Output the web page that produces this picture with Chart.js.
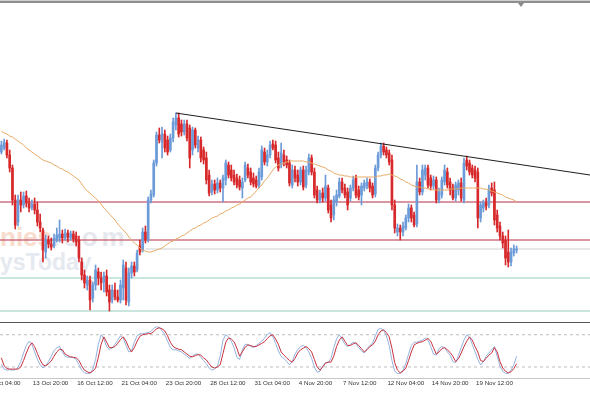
<!DOCTYPE html>
<html><head><meta charset="utf-8">
<script src="https://cdn.jsdelivr.net/npm/chart.js@4/dist/chart.umd.min.js"></script>
<style>
html,body{margin:0;padding:0;background:#fff;}
#wrap{position:relative;width:590px;height:393px;overflow:hidden;background:#fff;}
.abs{position:absolute;}
.wm{position:absolute;font-family:'Liberation Sans',Arial,sans-serif;font-weight:bold;white-space:nowrap;}
</style></head><body>
<div id="wrap">
  <div class="abs" style="left:0;top:0;width:590px;height:1px;background:#d0d0d0"></div>
  <div class="abs" style="left:0;top:1px;width:590px;height:2px;background:#8e8e8e"></div>
  <div class="abs" style="left:518px;top:3px;width:0;height:0;border-left:3px solid transparent;border-right:3px solid transparent;border-top:4px solid #8a8a8a"></div>
  <div class="wm" style="left:0;top:222px;font-size:26px;color:#f8dccd">nies<span style="color:#e6e8ee;letter-spacing:4px">.com</span></div>
  <div class="wm" style="left:0;top:249px;font-size:23px;color:#e5e9f0">ysToday</div>
  <canvas id="main" width="590" height="315" style="position:absolute;left:0;top:3px"></canvas>
  <div class="abs" style="left:0;top:322px;width:590px;height:1px;background:#555"></div>
  <div class="abs" style="left:0;top:378px;width:590px;height:1px;background:#c8c8c8"></div>
  <canvas id="osc" width="590" height="69" style="position:absolute;left:0;top:324px"></canvas>
</div>
<script>
// ---- data (price units, H4 bars) ----
const open = [248,252,257,245,232,200,178,200,195,204,
197,192,196,190,178,170,148,160,156,154,
160,162,166,162,167,162,166,164,160,138,
125,115,120,102,115,128,122,118,124,110,
100,110,103,100,112,132,98,127,134,130,
154,150,168,160,200,205,237,265,258,266,
260,250,262,275,282,276,268,276,272,250,
270,252,260,250,242,225,208,216,210,217,
212,220,235,230,225,222,220,212,220,232,
228,222,220,215,223,248,238,245,256,255,
242,235,245,240,237,215,230,225,218,230,
215,228,242,228,210,200,207,202,212,195,
185,198,204,218,212,208,202,212,222,210,
205,212,214,218,214,206,232,245,254,250,
247,240,195,168,172,168,172,182,192,185,
176,218,208,225,232,222,214,220,200,205,
218,228,218,212,202,210,217,200,240,237,
232,230,228,182,192,197,195,212,210,185,
174,164,160,148,138,147,150];
const high = [259,261,260,250,235,205,205,208,208,209,
202,200,202,198,186,172,165,164,162,166,
172,180,170,171,170,169,169,168,164,142,
130,124,124,118,135,132,128,128,130,115,
115,117,110,120,140,138,132,138,138,150,
160,172,174,203,210,240,268,272,273,270,
264,266,282,287,287,280,280,280,275,273,
272,264,263,253,248,230,220,220,222,220,
225,240,238,235,230,226,224,222,238,236,
232,227,224,232,254,252,250,259,260,259,
248,257,250,244,240,235,234,230,233,234,
234,246,245,232,214,210,212,225,215,200,
204,210,222,222,216,212,215,224,225,214,
217,220,222,221,217,235,248,257,257,253,
250,245,200,176,175,178,185,196,195,188,
235,222,235,235,235,225,224,223,212,223,
235,232,222,216,218,220,222,242,244,240,
235,234,232,198,200,202,215,217,218,190,
178,168,164,170,152,155,154];
const low = [246,250,242,228,195,171,174,188,192,193,
188,190,186,174,168,138,142,152,150,152,
158,158,157,160,158,160,158,154,138,120,
112,110,90,98,110,115,110,108,104,89,
97,100,98,97,100,95,94,122,124,128,
145,148,157,158,197,203,234,257,242,248,
245,248,258,270,263,264,265,259,232,245,
252,248,238,236,216,204,205,206,207,208,
198,215,222,219,215,212,210,202,218,222,
215,213,212,212,220,235,234,242,250,237,
229,232,234,232,214,212,218,214,215,210,
212,225,225,202,197,197,198,199,187,178,
180,194,202,207,202,190,199,209,202,200,
195,209,211,208,202,203,229,242,245,242,
235,190,167,164,160,164,170,178,178,173,
173,205,205,220,212,210,211,197,197,202,
215,212,205,200,199,205,199,197,230,225,
222,218,172,178,188,190,192,204,175,168,
160,152,135,133,134,144,147];
const close = [255,258,245,232,200,175,200,195,204,197,
192,196,190,178,172,150,160,156,153,162,
165,166,162,167,163,166,161,158,142,125,
117,120,100,115,130,122,117,124,108,98,
110,103,100,115,135,100,127,134,128,147,
148,168,160,200,206,237,265,260,266,252,
248,262,278,282,266,268,276,262,242,270,
255,260,242,240,220,207,216,210,217,212,
222,237,225,222,218,215,213,218,235,225,
218,216,214,228,250,238,245,255,252,240,
232,247,238,235,217,230,222,218,230,213,
230,242,228,205,200,207,202,214,190,182,
200,205,218,210,205,195,212,220,205,203,
214,217,218,212,205,232,245,254,248,245,
238,195,172,172,168,174,182,192,182,175,
218,208,230,232,215,214,220,200,208,220,
230,215,210,202,215,217,202,237,234,228,
225,222,182,195,197,194,210,207,180,172,
164,157,142,138,148,151,151];
const movingAverage = [269,267,266,264,263,261,259,257,255,252,
250,248,246,244,242,240,239,238,237,235,
234,232,231,229,228,226,224,222,220,216,
212,209,207,204,202,199,196,192,189,186,
183,180,176,173,170,167,163,160,157,155,
152,150,149,148,148,149,150,151,152,154,
156,158,159,161,162,164,165,167,169,171,
172,174,175,177,178,180,182,183,184,186,
187,189,190,192,193,195,196,198,200,202,
203,206,209,212,215,219,222,226,230,233,
235,236,237,238,239,239,239,239,239,239,
238,238,237,236,235,234,233,232,230,229,
227,226,225,225,224,224,223,223,223,223,
223,223,223,223,223,223,224,224,225,225,
226,225,224,223,221,220,218,217,215,214,
213,213,212,212,211,211,210,210,210,210,
210,210,211,211,211,211,212,212,212,212,
212,212,212,212,211,211,210,209,208,207,
206,205,203,202,201,200,198];
const stochK = [25,16,14,15,14,15,20,30,46,60,
68,62,48,34,24,18,22,30,40,50,
56,58,48,40,38,38,37,34,24,14,
9,8,8,16,34,62,80,72,58,52,
56,62,70,78,74,60,48,50,66,78,
82,82,83,84,86,92,95,93,88,80,
68,56,52,52,50,48,44,40,36,40,
44,44,38,32,26,18,14,16,22,40,
70,80,76,68,56,38,34,52,62,62,
58,56,60,64,68,74,80,84,76,64,
50,40,36,30,24,30,44,52,58,60,
56,48,36,20,10,12,22,28,28,36,
56,72,80,72,62,58,62,66,64,56,
50,46,54,60,64,78,90,92,88,78,
60,32,12,8,8,14,26,44,60,66,
66,68,70,74,70,58,44,42,54,58,
56,48,42,30,28,42,56,70,80,76,
62,48,34,24,30,40,46,52,58,40,
22,12,8,8,14,24,40];
const stochD = [37,22,17,16,16,16,16,20,32,46,
58,65,58,45,33,24,22,26,31,40,
48,53,52,44,41,39,38,37,32,22,
14,11,9,12,18,38,62,76,66,56,
56,58,64,71,76,68,56,48,56,68,
77,80,81,82,82,86,91,93,91,87,
78,66,58,55,53,52,48,44,40,39,
41,43,42,37,33,26,20,18,20,24,
45,66,74,72,67,55,40,48,57,61,
60,58,58,61,64,67,73,78,80,72,
62,48,42,37,32,29,36,46,52,55,
58,54,48,34,20,14,20,27,29,29,
40,58,70,76,68,60,60,63,65,60,
54,48,52,58,61,68,80,87,89,84,
76,55,28,14,9,12,18,32,48,61,
64,66,67,70,73,68,56,44,48,54,
56,52,47,40,30,35,46,58,68,76,
70,58,48,32,30,36,42,46,56,48,
30,18,12,9,11,17,26];
const resistanceLevels = [198, 160];
const supportLevels = [122, 89];
const pivotLevel = 151, pivotFromBar = 52;
const trendStart = {bar: 63, price: 287};
const trendEnd = {bar: 212.5, price: 225};
const stochLevels = [80, 20];
const tickBars = [-5, 11, 27, 43, 59, 75, 91, 107, 123, 139, 155, 171];
const tickLabels = ['9 Oct 04:00','13 Oct 20:00','16 Oct 12:00','21 Oct 04:00','23 Oct 20:00','28 Oct 12:00','31 Oct 04:00','4 Nov 20:00','7 Nov 12:00','12 Nov 04:00','14 Nov 20:00','19 Nov 12:00'];

// ---- build ----
const X_MIN = -0.5, X_MAX = 212.5;
const bars = open.map((_, i) => i);
const bullCol = '#6b9bd8', bearCol = '#d7292b';
const candleCol = bars.map(i => close[i] >= open[i] ? bullCol : bearCol);
const hline = (v, from) => [{x: from, y: v}, {x: X_MAX, y: v}];
const lineDs = (data, color, width, order, dash) => ({type: 'line', data, borderColor: color, borderWidth: width, pointRadius: 0, borderDash: dash || [], order, tension: 0});
const LABEL_FONT = '6.2px "Liberation Sans"';

const common = {
  responsive: false, animation: false, events: [],
  layout: {padding: 0},
  plugins: {legend: {display: false}, tooltip: {enabled: false}}
};

new Chart(document.getElementById('main'), {
  type: 'bar',
  data: {datasets: [
    lineDs(hline(resistanceLevels[0], X_MIN), 'rgba(196,92,108,0.85)', 1.4, 10),
    lineDs(hline(resistanceLevels[1], X_MIN), 'rgba(196,92,108,0.85)', 1.4, 10),
    lineDs(hline(pivotLevel, pivotFromBar), '#cfcfcf', 1, 10),
    lineDs(hline(supportLevels[0], X_MIN), '#93cdbf', 1.2, 10),
    lineDs(hline(supportLevels[1], X_MIN), '#93cdbf', 1.2, 10),
    {label: 'wick', data: bars.map(i => ({x: i, y: [low[i], high[i]]})), backgroundColor: candleCol, borderWidth: 0, barThickness: 1, grouped: false, order: 6},
    {label: 'body', data: bars.map(i => ({x: i, y: [open[i], close[i]]})), backgroundColor: candleCol, borderWidth: 0, barThickness: 2, grouped: false, order: 5},
    lineDs(bars.map(i => ({x: i, y: movingAverage[i]})), '#e8aa66', 1, 2),
    lineDs([{x: trendStart.bar, y: trendStart.price}, {x: trendEnd.bar, y: trendEnd.price}], '#1e1e1e', 1, 1)
  ]},
  options: Object.assign({}, common, {
    scales: {
      x: {type: 'linear', min: X_MIN, max: X_MAX, offset: false, display: false},
      y: {min: 82, max: 397, display: false}
    }
  })
});

// first label sits left of the visible range: drawn clipped at the canvas edge
const edgeLabel = {
  id: 'edgeLabel',
  afterDraw(chart) {
    const xs = chart.scales.x, ctx = chart.ctx;
    ctx.save();
    ctx.font = LABEL_FONT;
    ctx.fillStyle = '#333';
    ctx.textAlign = 'left';
    ctx.textBaseline = 'top';
    ctx.fillText(tickLabels[0], xs.getPixelForValue(tickBars[0]) + 1, chart.chartArea.bottom + 2);
    ctx.restore();
  }
};

new Chart(document.getElementById('osc'), {
  type: 'line',
  data: {datasets: [
    lineDs(hline(stochLevels[0], X_MIN), '#bdbdbd', 1, 5, [3, 3]),
    lineDs(hline(stochLevels[1], X_MIN), '#bdbdbd', 1, 5, [3, 3]),
    lineDs(bars.map(i => ({x: i, y: stochK[i]})), '#93b2de', 1, 2),
    lineDs(bars.map(i => ({x: i, y: stochD[i]})), '#c7303e', 1, 1)
  ]},
  plugins: [edgeLabel],
  options: Object.assign({}, common, {
    scales: {
      x: {
        type: 'linear', min: X_MIN, max: X_MAX, offset: false,
        afterFit: s => { s.height = 15.3; },
        afterBuildTicks: s => { s.ticks = tickBars.slice(1).map(v => ({value: v})); },
        grid: {display: false, drawTicks: false},
        border: {display: false},
        ticks: {
          autoSkip: false, maxRotation: 0, minRotation: 0, align: 'start', padding: 2, labelOffset: 1,
          color: '#333', font: {family: 'Liberation Sans', size: 6.2},
          callback: v => { const k = tickBars.indexOf(v); return k >= 0 ? tickLabels[k] : ''; }
        }
      },
      y: {min: 0, max: 100, display: false}
    }
  })
});
</script>
</body></html>
